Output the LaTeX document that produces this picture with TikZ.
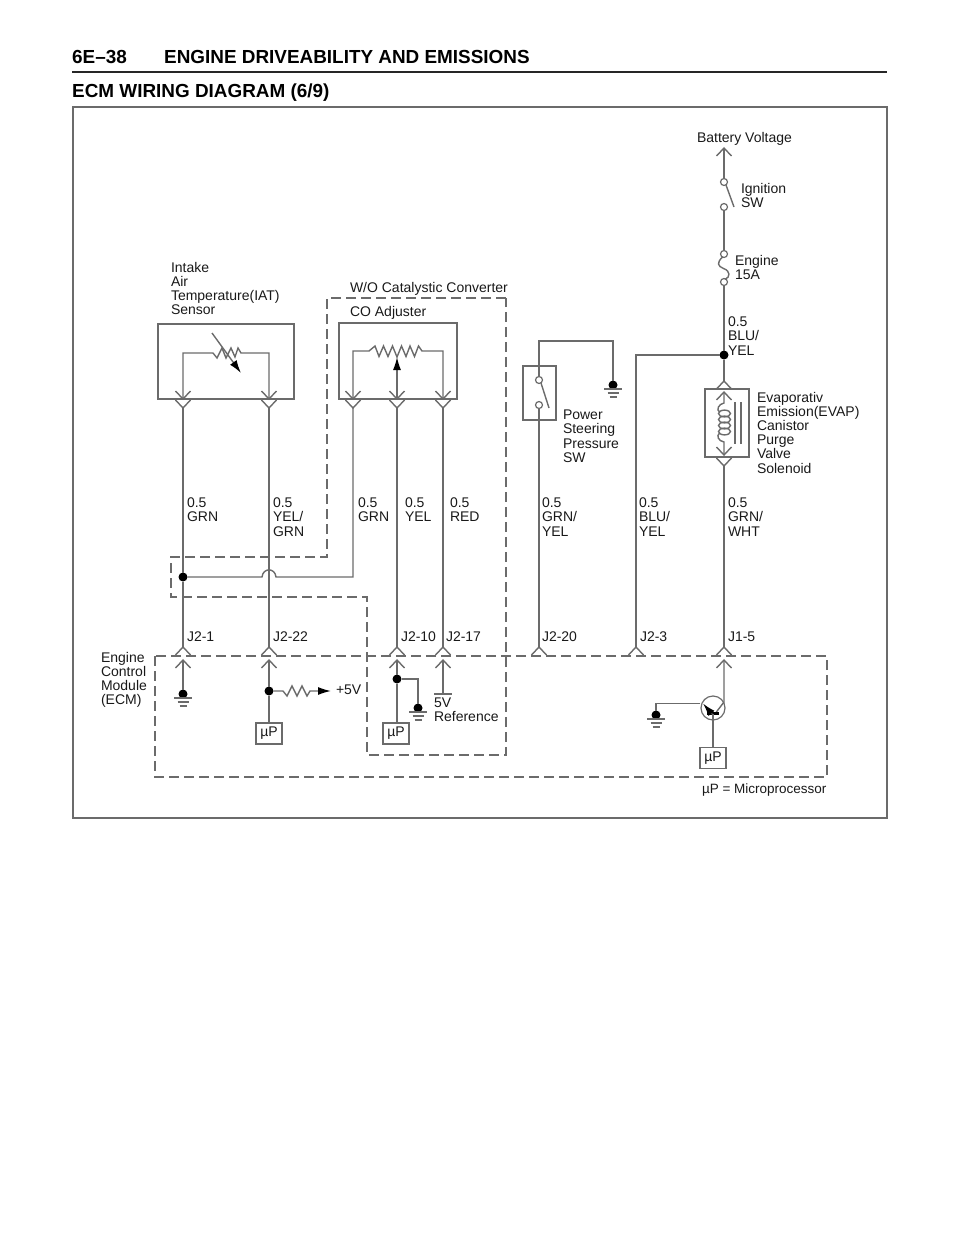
\documentclass[tikz,border=0pt]{standalone}
\usepackage{fontspec}
\setmainfont{Liberation Sans}
\usetikzlibrary{arrows.meta}
\definecolor{wirec}{gray}{0.42}
\definecolor{textc}{gray}{0.1}
\tikzset{
  wire/.style={draw=wirec,line width=1.4pt},
  boxl/.style={draw=wirec,line width=1.4pt},
  dash box/.style={draw=wirec,line width=1.4pt,dash pattern=on 10pt off 5pt},
  lab/.style={anchor=north west,inner sep=0pt,outer sep=0pt,align=left,text=textc,
    font=\fontsize{14}{14.2}\selectfont},
  head/.style={anchor=base west,inner sep=0pt,text=black,font=\fontsize{18.9}{21}\selectfont\bfseries},
  dot/.style={circle,fill=black,inner sep=0pt,minimum size=9pt,outer sep=0pt},
  oc/.style={circle,draw=wirec,fill=white,line width=1.2pt,inner sep=0pt,minimum size=7pt,outer sep=0pt},
  up box/.style={rectangle,draw=wirec,line width=1.4pt,minimum width=26pt,minimum height=21pt,inner sep=0pt,
    text=textc,font=\fontsize{14}{14}\selectfont},
  chevup/.pic={\draw[wire] (-7.5,8)--(0,0)--(7.5,8);},
  chevdn/.pic={\draw[wire] (-7.5,-8)--(0,0)--(7.5,-8);},
  gndsym/.pic={\draw[wire] (-9,4)--(9,4) (-5.5,8)--(5.5,8) (-3.5,12)--(3.5,12);},
  tip/.style={-{Latex[length=13pt,width=8pt,black]}}
}
\newcommand\lab[4]{\node[lab] (#1) at (#2,#3) {#4};}
\begin{document}
\begin{tikzpicture}[x=1pt,y=-1pt]
\useasboundingbox (0,0) rectangle (960,1242);
% header
\node[head] (hA) at (72,63) {6E–38};
\node[head] (hB) at (164,63) {ENGINE DRIVEABILITY AND EMISSIONS};
\node[head] (hC) at (72,97) {ECM WIRING DIAGRAM (6/9)};
\coordinate (ruleL) at (72,72); \coordinate (ruleR) at (887,72);
\draw[draw=black!85,line width=2pt] (ruleL)--(ruleR);
\draw[boxl] (73,107) rectangle (887,818);
% dashed zones
\draw[dash box] (506,298)--(327,298)--(327,557)--(171,557)--(171,597)--(367,597)--(367,755)--(506,755)--cycle;
\draw[dash box] (155,656) rectangle (827,777);
% component boxes
\draw[boxl] (158,324) rectangle (294,399);
\draw[boxl] (339,323) rectangle (457,399);
\draw[boxl] (523,366) rectangle (556,420);
\draw[boxl] (705,389) rectangle (749,457);
% chevrons at IAT / CO
\foreach \x in {183,269,353,397,443}{
  \pic at (\x,399) {chevdn};
  \pic at (\x,408) {chevdn};
}
\foreach \x in {183,269,397,443,539,636,724}{
  \pic at (\x,647) {chevup};
}
\foreach \x in {183,269,397,443,724}{
  \pic at (\x,660) {chevup};
}
% ---- IAT
\coordinate (iatL) at (183,399); \coordinate (iatR) at (269,399);
\coordinate (iatLb) at (183,408); \coordinate (iatRb) at (269,408);
\draw[wire] (iatL)--(183,353)--(213,353)--(217,358)--(222,348)--(226,358)--(231,348)--(235,357)--(238,348)--(241,353)--(269,353)--(iatR);
\coordinate (iatA) at (212,333); \coordinate (iatB) at (241,373);
\draw[wire,tip] (iatA)--(iatB);
% ---- CO adjuster
\coordinate (coL) at (353,399); \coordinate (coM) at (397,399); \coordinate (coR) at (443,399);
\coordinate (coT) at (397,357);
\draw[wire] (coL)--(353,351)--(369,351)--(375,346)--(379,356.5)--(383.5,346)--(388,356.5)--(392.5,346)--(397,357)--(401.5,346)--(406,356.5)--(410,346)--(414.5,356.5)--(418.5,346)--(422,351)--(443,351)--(coR);
\draw[wire,tip] (coM)--(coT);
% ---- long wires
\node[dot] (j1) at (183,577) {};
\coordinate (t1) at (183,647); \coordinate (t2) at (269,647);
\coordinate (t3) at (397,647); \coordinate (t4) at (443,647);
\coordinate (t5) at (539,647); \coordinate (t6) at (636,647); \coordinate (t7) at (724,647);
\coordinate (coLb) at (353,408); \coordinate (coMb) at (397,408); \coordinate (coRb) at (443,408);
\draw[wire] (iatLb)--(j1)--(t1);
\draw[wire] (iatRb)--(t2);
\draw[wire] (coMb)--(t3);
\draw[wire] (coRb)--(t4);
\draw[wire] (j1)--(262,577) .. controls (263,567.5) and (275,567.5) .. (276,577)--(353,577)--(coLb);
% ---- ECM internals
\coordinate (b1) at (183,660); \node[dot] (g1) at (183,694) {};
\draw[wire] (b1)--(g1);
\pic at (183,694) {gndsym};
\coordinate (b2) at (269,660); \node[dot] (j2) at (269,691) {};
\node[up box] (up1) at (269,733.5) {µP};
\draw[wire] (b2)--(j2)--(up1);
\coordinate (pl5) at (331,691);
\draw[wire] (j2)--(283,691)--(287,696)--(292,686)--(297,696)--(302,686)--(307,696)--(310,691)--(318,691);
\draw[wire,tip] (318,691)--(pl5);
\coordinate (b3) at (397,660); \node[dot] (j3) at (397,679) {};
\node[up box] (up2) at (396,733.5) {µP};
\draw[wire] (b3)--(j3)--(397,723);
\node[dot] (g3) at (418,708) {};
\draw[wire] (j3)--(418,679)--(g3);
\pic at (418,708) {gndsym};
\coordinate (b4) at (443,660); \coordinate (r5) at (443,694);
\draw[wire] (b4)--(r5);
\draw[wire] (434,694)--(452,694);
% ---- Power steering
\node[oc] (ps1) at (539,380) {};
\node[oc] (ps2) at (539,405) {};
\node[dot] (g5) at (613,385) {};
\draw[wire] (ps1)--(539,341)--(613,341)--(g5);
\pic at (613,385) {gndsym};
\draw[wire] (ps2)--(t5);
\coordinate (psA) at (541,383); \coordinate (psB) at (549,408);
\draw[wire] (psA)--(psB);
% ---- Battery side
\coordinate (bat) at (724,148);
\pic at (724,148) {chevup};
\node[oc] (ig1) at (724,182) {};
\node[oc] (ig2) at (724,207) {};
\node[oc] (fu1) at (724,254) {};
\node[oc] (fu2) at (724,282) {};
\node[dot] (j4) at (724,355) {};
\draw[wire] (bat)--(ig1);
\draw[wire] (ig2)--(fu1);
\draw[wire] (fu2)--(j4);
\coordinate (igA) at (726,185); \coordinate (igB) at (734,207);
\draw[wire] (igA)--(igB);
\draw[wire] (722.5,257) .. controls (716.5,263) and (717.5,266) .. (723.5,268.5) .. controls (730.5,271) and (730.5,277) .. (725,279.5);
\draw[wire] (j4)--(636,355)--(t6);
% ---- Solenoid
\coordinate (ev0) at (724,381);
\pic at (724,381) {chevup};
\pic at (724,392) {chevup};
\pic at (724,455) {chevdn};
\pic at (724,466) {chevdn};
\draw[wire] (j4)--(ev0);
\coordinate (evT) at (724,392); \coordinate (evB) at (724,455); \coordinate (evBb) at (724,466);
\draw[wire] (evT)--(724,403) .. controls (718.5,404) and (716,410) .. (719.5,412);
\draw[wire] (evB)--(724,442) .. controls (718.5,441) and (716,436) .. (719.5,433);
\foreach \y in {413.5,419.5,425.5,431.5}{\draw[wire] (724.5,\y) ellipse [x radius=6,y radius=3.4];}
\draw[wire] (735,402)--(735,444) (741,402)--(741,444);
\draw[wire] (evBb)--(t7);
% ---- Transistor
\coordinate (b7) at (724,660);
\node[circle,draw=wirec,line width=1.2pt,minimum size=24pt,inner sep=0pt] (qq) at (713,708) {};
\draw[wire] (b7)--(724,702)--(716,712.5);
\draw[line width=3.5pt,draw=black] (707,713.5)--(719,713.5);
\node[up box] (up3) at (713,758) {µP};
\draw[wire] (713,714)--(up3);
\coordinate (emB) at (712,714); \coordinate (emT) at (703,703.5);
\draw[wire,tip] (emB)--(emT);
\node[dot] (g7) at (656,715) {};
\draw[wire] (qq.west |- 0,703.5)--(656,703.5)--(g7);
\pic at (656,715) {gndsym};
% ---- labels
\lab{lBat}{697}{132}{Battery Voltage}
\lab{lIg}{741}{183}{Ignition\\SW}
\lab{lEng}{735}{255}{Engine\\15A}
\lab{lBy}{728}{317}{0.5\\BLU/\\YEL}
\lab{lEv}{757}{392}{Evaporativ\\Emission(EVAP)\\Canistor\\Purge\\Valve\\Solenoid}
\lab{lPs}{563}{410}{Power\\Steering\\Pressure\\SW}
\lab{lIat}{171}{262}{Intake\\Air\\Temperature(IAT)\\Sensor}
\lab{lWo}{350}{282}{W/O Catalystic Converter}
\lab{lCo}{350}{306}{CO Adjuster}
\lab{w1}{187}{498}{0.5\\GRN}
\lab{w2}{273}{498}{0.5\\YEL/\\GRN}
\lab{w3}{358}{498}{0.5\\GRN}
\lab{w4}{405}{498}{0.5\\YEL}
\lab{w5}{450}{498}{0.5\\RED}
\lab{w6}{542}{498}{0.5\\GRN/\\YEL}
\lab{w7}{639}{498}{0.5\\BLU/\\YEL}
\lab{w8}{728}{498}{0.5\\GRN/\\WHT}
\lab{c1}{187}{632}{J2-1}
\lab{c2}{273}{632}{J2-22}
\lab{c3}{401}{632}{J2-10}
\lab{c4}{446}{632}{J2-17}
\lab{c5}{542}{632}{J2-20}
\lab{c6}{640}{632}{J2-3}
\lab{c7}{728}{632}{J1-5}
\lab{lEcm}{101}{652}{Engine\\Control\\Module\\(ECM)}
\lab{lP5}{336}{685}{+5V}
\lab{lRef}{434}{698}{5V\\Reference}
\node[lab,font=\fontsize{13.5}{14}\selectfont] (lMu) at (702,784) {µP = Microprocessor};
\end{tikzpicture}
\end{document}
